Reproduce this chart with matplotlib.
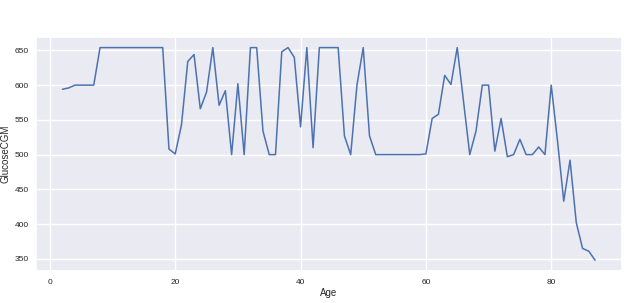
import matplotlib
matplotlib.use("Agg")
import matplotlib.pyplot as plt
import seaborn as sns

# Data
ages = [2, 3, 4, 5, 6, 7, 8, 9, 10, 11, 12, 13, 14, 15, 16, 17, 18, 19, 20,
        21, 22, 23, 24, 25, 26, 27, 28, 29, 30, 31, 32, 33, 34, 35, 36, 37, 38,
        39, 40, 41, 42, 43, 44, 45, 46, 47, 48, 49, 50, 51, 52, 53, 54, 55, 56,
        57, 58, 59, 60, 61, 62, 63, 64, 65, 66, 67, 68, 69, 70, 71, 72, 73, 74,
        75, 76, 77, 78, 79, 80, 81, 82, 83, 84, 85, 86, 87]
glucose = [594, 596, 600, 600, 600, 600, 654, 654, 654, 654, 654, 654, 654,
           654, 654, 654, 654, 508, 501, 543, 634, 644, 566, 590, 654, 571,
           592, 500, 602, 500, 654, 654, 534, 500, 500, 648, 654, 640, 540,
           654, 510, 654, 654, 654, 654, 527, 500, 600, 654, 527, 500, 500,
           500, 500, 500, 500, 500, 500, 501, 552, 558, 614, 601, 654, 577,
           500, 534, 600, 600, 505, 552, 497, 500, 522, 500, 500, 511, 500,
           600, 520, 433, 492, 402, 365, 361, 348]

sns.set_theme(style="darkgrid")
plt.rcParams['font.family'] = ['Liberation Sans', 'DejaVu Sans']

fig = plt.figure(figsize=(6.28, 3.03), dpi=100)
ax = fig.add_axes([0.057, 0.106, 0.933, 0.772])
ax.plot(ages, glucose, color="#4c72b0", linewidth=1.1)

ax.set_xlabel("Age", fontsize=7, labelpad=2)
ax.set_ylabel("GlucoseCGM", fontsize=7, labelpad=3)
ax.tick_params(axis="both", labelsize=6, length=0)
ax.tick_params(axis="x", pad=5.5)
ax.tick_params(axis="y", pad=5)

fig.savefig("out.png", dpi=100)
